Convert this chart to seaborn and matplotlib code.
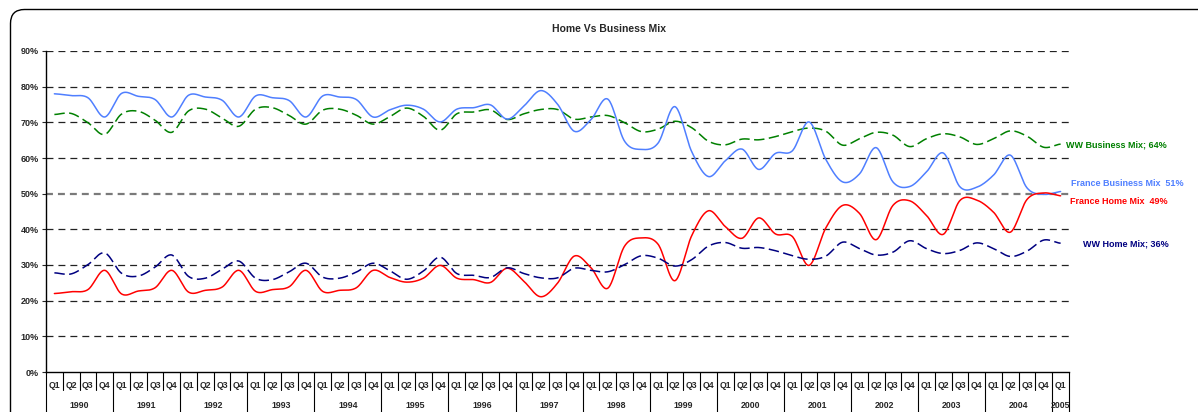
#!/usr/bin/env python
"""Home Vs Business Mix - quarterly mix 1990 Q1 .. 2005 Q1"""
import matplotlib
matplotlib.use('Agg')
import matplotlib.pyplot as plt
import matplotlib.transforms as mtransforms
from matplotlib.patches import FancyBboxPatch
import numpy as np
import pandas as pd
import seaborn as sns

sns.set_style('white')
plt.rcParams['font.family'] = ['Liberation Sans', 'DejaVu Sans']
plt.rcParams['font.weight'] = 'bold'
plt.rcParams['lines.scale_dashes'] = False

# ---- data ----
years = [str(y) for y in range(1990, 2006)]
quarters = ['Q1', 'Q2', 'Q3', 'Q4']

france_business = [78.0, 77.5, 76.9, 71.5,  78.1, 77.3, 76.4, 71.5,
                   77.6, 77.1, 76.2, 71.5,  77.4, 76.9, 76.1, 71.5,
                   77.4, 77.1, 76.4, 71.5,  73.5, 74.8, 73.7, 70.1,
                   73.7, 74.1, 74.9, 70.9,  74.6, 78.9, 75.1, 67.5,
                   70.8, 76.5, 64.7, 62.4,  64.2, 74.4, 61.8, 54.8,
                   59.2, 62.5, 56.8, 61.3,  62.0, 70.1, 59.6, 53.3,
                   55.5, 62.9, 53.3, 52.0,  56.1, 61.4, 51.9, 51.8,
                   55.2, 60.8, 51.6, 49.8,  50.6]
france_home = [22.0, 22.5, 23.1, 28.5,  21.9, 22.7, 23.6, 28.5,
               22.4, 22.9, 23.8, 28.5,  22.6, 23.1, 23.9, 28.5,
               22.6, 22.9, 23.6, 28.5,  26.5, 25.2, 26.3, 29.9,
               26.3, 25.9, 25.1, 29.1,  25.4, 21.1, 24.9, 32.5,
               29.2, 23.5, 35.3, 37.6,  35.8, 25.6, 38.2, 45.2,
               40.8, 37.5, 43.2, 38.7,  38.0, 29.9, 40.4, 46.7,
               44.5, 37.1, 46.7, 48.0,  43.9, 38.6, 48.1, 48.2,
               44.8, 39.2, 48.4, 50.2,  49.4]
ww_business = [72.2, 72.5, 69.9, 66.6,  72.3, 73.1, 70.6, 67.2,
               73.2, 73.7, 71.2, 68.9,  73.7, 74.1, 71.9, 69.5,
               73.4, 73.7, 72.0, 69.5,  71.6, 74.0, 71.7, 67.8,
               72.4, 72.9, 73.5, 70.8,  72.4, 73.6, 73.6, 70.9,
               71.5, 71.9, 69.9, 67.4,  68.1, 70.3, 68.5, 64.7,
               63.7, 65.3, 65.1, 66.0,  67.4, 68.4, 67.5, 63.6,
               65.4, 67.2, 66.4, 63.2,  65.4, 66.8, 65.9, 63.8,
               65.4, 67.6, 66.1, 63.0,  63.9]
ww_home = [27.8, 27.5, 30.1, 33.4,  27.7, 26.9, 29.4, 32.8,
           26.8, 26.3, 28.8, 31.1,  26.3, 25.9, 28.1, 30.5,
           26.6, 26.3, 28.0, 30.5,  28.4, 26.0, 28.3, 32.2,
           27.6, 27.1, 26.5, 29.2,  27.6, 26.4, 26.4, 29.1,
           28.5, 28.1, 30.1, 32.6,  31.9, 29.7, 31.5, 35.3,
           36.3, 34.7, 34.9, 34.0,  32.6, 31.6, 32.5, 36.4,
           34.6, 32.8, 33.6, 36.8,  34.6, 33.2, 34.1, 36.2,
           34.6, 32.4, 33.9, 37.0,  36.1]

series_names = ['WW Business Mix', 'France Business Mix', 'France Home Mix', 'WW Home Mix']
series_values = [ww_business, france_business, france_home, ww_home]
end_labels = ['WW Business Mix; 64%', 'France Business Mix  51%',
              'France Home Mix  49%', 'WW Home Mix; 36%']
colors = {'WW Business Mix': '#008000', 'France Business Mix': '#4F7FFF',
          'France Home Mix': '#FF0000', 'WW Home Mix': '#000080'}
dashed = {'WW Business Mix': True, 'France Business Mix': False,
          'France Home Mix': False, 'WW Home Mix': True}

n_pts = len(france_business)
quarter_labels = [quarters[i % 4] for i in range(n_pts)]


def smooth(vals, n=24):
    """Excel-style smoothed line (uniform Catmull-Rom through the points)."""
    y = np.asarray(vals, float)
    p = np.concatenate([[y[0]], y, [y[-1]]])
    xs, ys = [], []
    t = np.linspace(0, 1, n, endpoint=False)
    for i in range(len(y) - 1):
        p0, p1, p2, p3 = p[i], p[i + 1], p[i + 2], p[i + 3]
        yy = 0.5 * ((2 * p1) + (-p0 + p2) * t + (2 * p0 - 5 * p1 + 4 * p2 - p3) * t ** 2
                    + (-p0 + 3 * p1 - 3 * p2 + p3) * t ** 3)
        xs.append(i + t)
        ys.append(yy)
    xs.append([len(y) - 1])
    ys.append([y[-1]])
    return np.concatenate(xs), np.concatenate(ys)


W, H = 1198, 412
fig = plt.figure(figsize=(W / 100, H / 100), dpi=100)
ax = fig.add_axes([46 / W, 1 - 372 / H, (1069 - 46) / W, (372 - 51) / H])

# outer rounded frame
frame = FancyBboxPatch((10.5, -30), 1230, 402.5 + 30, boxstyle='round,pad=0,rounding_size=14',
                       transform=mtransforms.IdentityTransform(), fill=False,
                       edgecolor='black', linewidth=1.0)
fig.patches.append(frame)

# dashed grid
for v in range(10, 91, 10):
    col = '#7a7a7a' if v == 50 else '#222222'
    lw = 1.6 if v == 50 else 0.9
    ax.axhline(v, color=col, linewidth=lw, dashes=(5, 3.6), zorder=1)

for name, vals in zip(series_names, series_values):
    sx, sy = smooth(vals)
    df = pd.DataFrame({'x': sx, 'y': sy})
    sns.lineplot(data=df, x='x', y='y', ax=ax, color=colors[name], linewidth=1.1,
                 zorder=3, estimator=None, sort=False)
    if dashed[name]:
        ax.lines[-1].set_dashes((7.5, 3.2))

ax.set_xlim(-0.5, n_pts - 0.5)
ax.set_ylim(0, 90)
ax.set_yticks(range(0, 91, 10))
ax.set_yticklabels([f'{v}%' for v in range(0, 91, 10)], fontsize=6.5, fontweight='bold')
ax.tick_params(axis='y', length=3, width=0.8, direction='out', pad=2, left=True)
ax.set_xticks([])
ax.set_xlabel('')
ax.set_ylabel('')
for s in ['top', 'right']:
    ax.spines[s].set_visible(False)
for s in ['left', 'bottom']:
    ax.spines[s].set_color('black')
    ax.spines[s].set_linewidth(1.0)

# two-level category axis
trans = mtransforms.blended_transform_factory(ax.transData, fig.transFigure)
y_axis = 1 - 372 / H
for i in range(n_pts + 1):
    y_end = 0.0 if i % 4 == 0 or i == n_pts else 1 - 390 / H
    ax.plot([i - 0.5, i - 0.5], [y_axis, y_end], color='black', linewidth=0.8,
            transform=trans, clip_on=False)
for i, q in enumerate(quarter_labels):
    ax.text(i, 1 - 386 / H, q, transform=trans, ha='center', va='center',
            fontsize=6.3, fontweight='bold')
for k, yr in enumerate(years):
    xc = 4 * k + 1.5 if k < len(years) - 1 else n_pts - 1
    ax.text(xc, 1 - 405 / H, yr, transform=trans, ha='center', va='center',
            fontsize=6.3, fontweight='bold')

fig.text(609 / W, 1 - 29 / H, 'Home Vs Business Mix', ha='center', va='center',
         fontsize=7.5, fontweight='bold')

label_pos = [(1066, 145), (1071, 183), (1070, 202), (1083, 244)]
for name, lab, (px, py) in zip(series_names, end_labels, label_pos):
    fig.text(px / W, 1 - py / H, lab, ha='left', va='center', fontsize=6.5,
             fontweight='bold', color=colors[name])

fig.savefig('out.png', dpi=100)
plt.close()
